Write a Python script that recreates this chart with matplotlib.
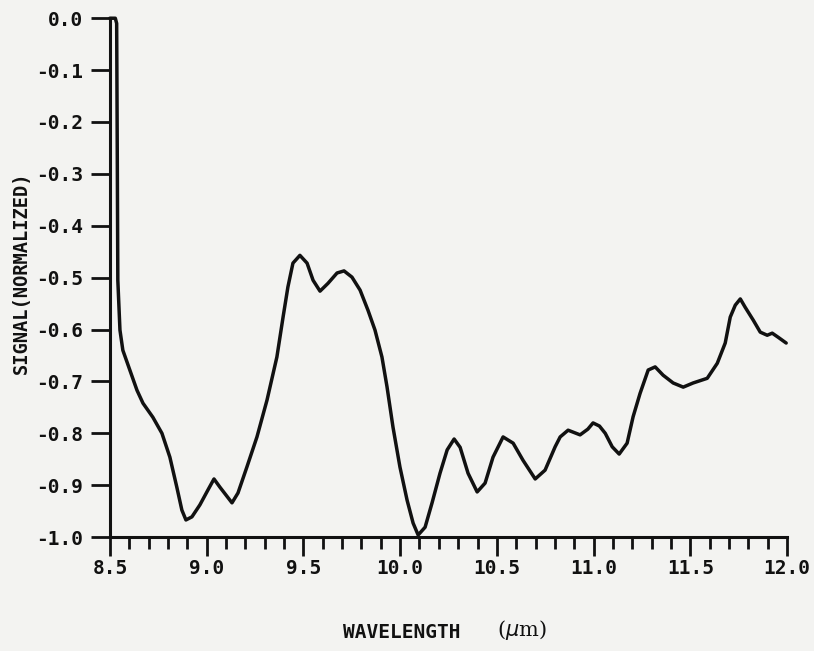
import matplotlib
matplotlib.use("Agg")
import matplotlib.pyplot as plt
from matplotlib.ticker import MultipleLocator

wavelength = [
    8.500, 8.528, 8.535, 8.538, 8.541, 8.552, 8.567, 8.603, 8.640, 8.671,
    8.722, 8.769, 8.810, 8.846, 8.872, 8.893, 8.924, 8.965, 9.007, 9.038,
    9.069, 9.131, 9.162, 9.208, 9.260, 9.312, 9.363, 9.395, 9.420, 9.446,
    9.482, 9.519, 9.550, 9.586, 9.627, 9.674, 9.710, 9.751, 9.793, 9.834,
    9.870, 9.906, 9.932, 9.963, 9.999, 10.036, 10.067, 10.093, 10.129, 10.165,
    10.206, 10.243, 10.279, 10.310, 10.351, 10.398, 10.439, 10.480, 10.532, 10.584,
    10.635, 10.698, 10.749, 10.801, 10.827, 10.868, 10.930, 10.970, 10.997, 11.030,
    11.060, 11.096, 11.132, 11.173, 11.204, 11.240, 11.282, 11.318, 11.359, 11.411,
    11.463, 11.514, 11.587, 11.639, 11.680, 11.706, 11.732, 11.758, 11.783, 11.825,
    11.861, 11.897, 11.923, 11.954, 11.995,
]
signal = [
    0.000, 0.000, -0.010, -0.250, -0.505, -0.601, -0.640, -0.678, -0.717, -0.742,
    -0.769, -0.800, -0.846, -0.904, -0.948, -0.967, -0.961, -0.938, -0.909, -0.888,
    -0.904, -0.934, -0.915, -0.865, -0.807, -0.736, -0.653, -0.576, -0.518, -0.472,
    -0.457, -0.472, -0.505, -0.526, -0.511, -0.491, -0.487, -0.499, -0.524, -0.563,
    -0.601, -0.653, -0.710, -0.788, -0.865, -0.929, -0.973, -0.996, -0.981, -0.934,
    -0.877, -0.832, -0.811, -0.827, -0.877, -0.913, -0.896, -0.846, -0.807, -0.819,
    -0.852, -0.888, -0.871, -0.826, -0.807, -0.794, -0.803, -0.792, -0.780, -0.786,
    -0.800, -0.826, -0.840, -0.819, -0.768, -0.723, -0.678, -0.672, -0.688, -0.703,
    -0.711, -0.703, -0.694, -0.665, -0.626, -0.576, -0.553, -0.541, -0.557, -0.582,
    -0.605, -0.611, -0.607, -0.615, -0.626,
]

x_ticks = [8.5, 9.0, 9.5, 10.0, 10.5, 11.0, 11.5, 12.0]
x_tick_labels = ["8.5", "9.0", "9.5", "10.0", "10.5", "11.0", "11.5", "12.0"]
y_ticks = [0.0, -0.1, -0.2, -0.3, -0.4, -0.5, -0.6, -0.7, -0.8, -0.9, -1.0]
y_tick_labels = ["0.0", "-0.1", "-0.2", "-0.3", "-0.4", "-0.5",
                 "-0.6", "-0.7", "-0.8", "-0.9", "-1.0"]

paper = "#f3f3f1"
ink = "#111111"
mono = "DejaVu Sans Mono"

fig = plt.figure(figsize=(8.14, 6.51), dpi=100, facecolor=paper)
ax = fig.add_axes([0.135, 0.175, 0.832, 0.797])
ax.set_facecolor(paper)

ax.plot(wavelength, signal, color=ink, linewidth=2.5,
        solid_joinstyle="round", solid_capstyle="round", clip_on=False)

ax.set_xlim(8.5, 12.0)
ax.set_ylim(-1.0, 0.0)

for side in ("top", "right"):
    ax.spines[side].set_visible(False)
for side in ("left", "bottom"):
    ax.spines[side].set_linewidth(2.2)
    ax.spines[side].set_color(ink)

ax.set_xticks(x_ticks)
ax.set_xticklabels(x_tick_labels)
ax.xaxis.set_minor_locator(MultipleLocator(0.1))
ax.set_yticks(y_ticks)
ax.set_yticklabels(y_tick_labels)

ax.tick_params(axis="x", which="major", direction="out", length=14, width=2.0,
               color=ink, pad=2)
ax.tick_params(axis="x", which="minor", direction="out", length=8.5, width=2.0,
               color=ink)
ax.tick_params(axis="y", which="major", direction="out", length=14, width=2.0,
               color=ink, pad=5)

for lbl in ax.get_xticklabels() + ax.get_yticklabels():
    lbl.set_fontfamily(mono)
    lbl.set_fontweight("bold")
    lbl.set_fontsize(14)
    lbl.set_color(ink)

# axis titles
fig.text(21 / 814, 1 - 273 / 651, "SIGNAL(NORMALIZED)", rotation=90,
         fontfamily=mono, fontweight="bold", fontsize=13.5, color=ink,
         ha="center", va="center")
fig.text(0.421, 0.014, "WAVELENGTH", fontfamily=mono, fontweight="bold",
         fontsize=14, color=ink, ha="left", va="bottom")
fig.text(0.610, 0.014, r"($\mu$m)", fontfamily="DejaVu Serif",
         fontsize=15, color=ink, ha="left", va="bottom")

fig.savefig("out.png", dpi=100, facecolor=paper)
